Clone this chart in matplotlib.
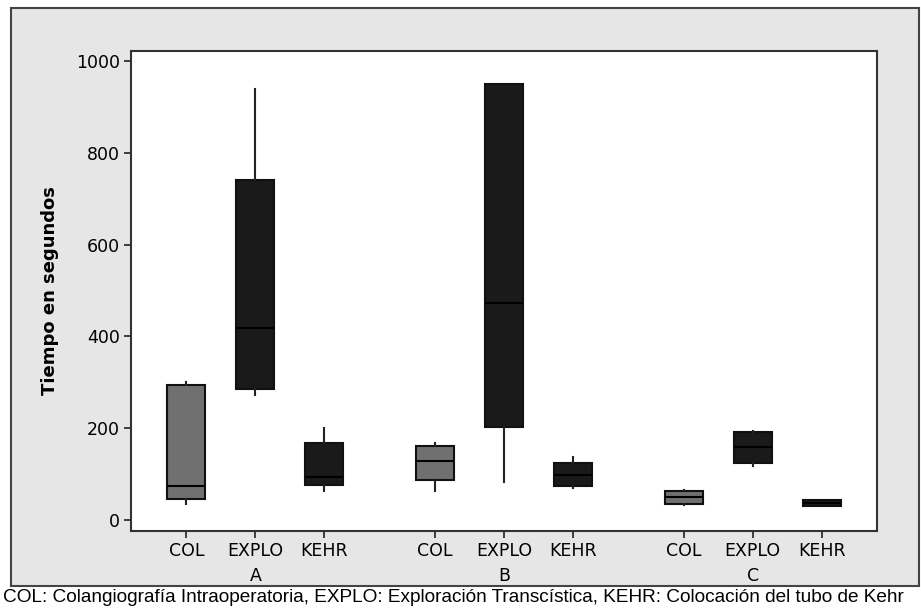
import numpy as np
import matplotlib
matplotlib.use('Agg')
import matplotlib.pyplot as plt
from matplotlib.patches import Rectangle
from matplotlib import font_manager

groups = ['A', 'B', 'C']
methods = ['COL', 'EXPLO', 'KEHR']
# one entry per box, order A-COL, A-EXPLO, A-KEHR, B-COL, ...
whislo = [35, 272, 63, 63, 83, 70, 33, 118, 31]
q1 = [46, 285, 76, 87, 203, 74, 35, 124, 31]
med = [74, 418, 94, 129, 473, 98, 50, 159, 38]
q3 = [294, 741, 168, 161, 950, 124, 63, 192, 44]
whishi = [300, 939, 200, 168, 950, 137, 65, 194, 44]
caption = ('COL: Colangiografía Intraoperatoria, EXPLO: Exploración Transcística, '
           'KEHR: Colocación del tubo de Kehr')

names = {f.name for f in font_manager.fontManager.ttflist}
narrow = 'Liberation Sans Narrow' if 'Liberation Sans Narrow' in names else 'Liberation Sans'

W, H = 921, 611
fig = plt.figure(figsize=(W / 100, H / 100), dpi=100)
fig.patch.set_facecolor('white')

# gray panel behind the chart
panel = Rectangle((11 / W, 25 / H), 908 / W, 578 / H, transform=fig.transFigure,
                  facecolor='#e6e6e6', edgecolor='#444444', lw=1.5, zorder=-5)
fig.add_artist(panel)

ax = fig.add_axes([131 / W, 80 / H, 746 / W, 480 / H])
ax.set_zorder(2)
ax.set_facecolor('white')

stats = []
pos = []
for g in range(len(groups)):
    for m in range(len(methods)):
        i = g * 3 + m
        stats.append(dict(whislo=whislo[i], q1=q1[i], med=med[i], q3=q3[i], whishi=whishi[i], fliers=[]))
        pos.append(g * 3.6 + m)

bp = ax.bxp(stats, positions=pos, widths=0.55, showcaps=False, patch_artist=True,
            boxprops=dict(edgecolor='#111111', lw=1.5),
            medianprops=dict(color='#000000', lw=1.5),
            whiskerprops=dict(color='#222222', lw=1.5))
for i, b in enumerate(bp['boxes']):
    b.set_facecolor('#707070' if i % 3 == 0 else '#1a1a1a')

ax.set_xlim(-0.8, 10.0)
ax.set_ylim(-24, 1022)
ax.set_yticks([0, 200, 400, 600, 800, 1000])
ax.set_xticks(pos)
ax.set_xticklabels(methods * 3)
ax.tick_params(axis='both', direction='out', length=5, width=1.2, color='#222222',
               labelsize=12.5, pad=3)
for s in ax.spines.values():
    s.set_linewidth(1.5)
    s.set_color('#333333')

for g, name in enumerate(groups):
    ax.text(g * 3.6 + 1, -0.094, name, transform=ax.get_xaxis_transform(),
            ha='center', va='center', fontsize=12.5)

ax.set_ylabel('Tiempo en segundos', fontsize=13, fontweight='bold', labelpad=12)

fig.text(3 / W, 14 / H, caption, family=narrow, fontsize=13.7, ha='left', va='center')

fig.savefig('out.png', dpi=100)
